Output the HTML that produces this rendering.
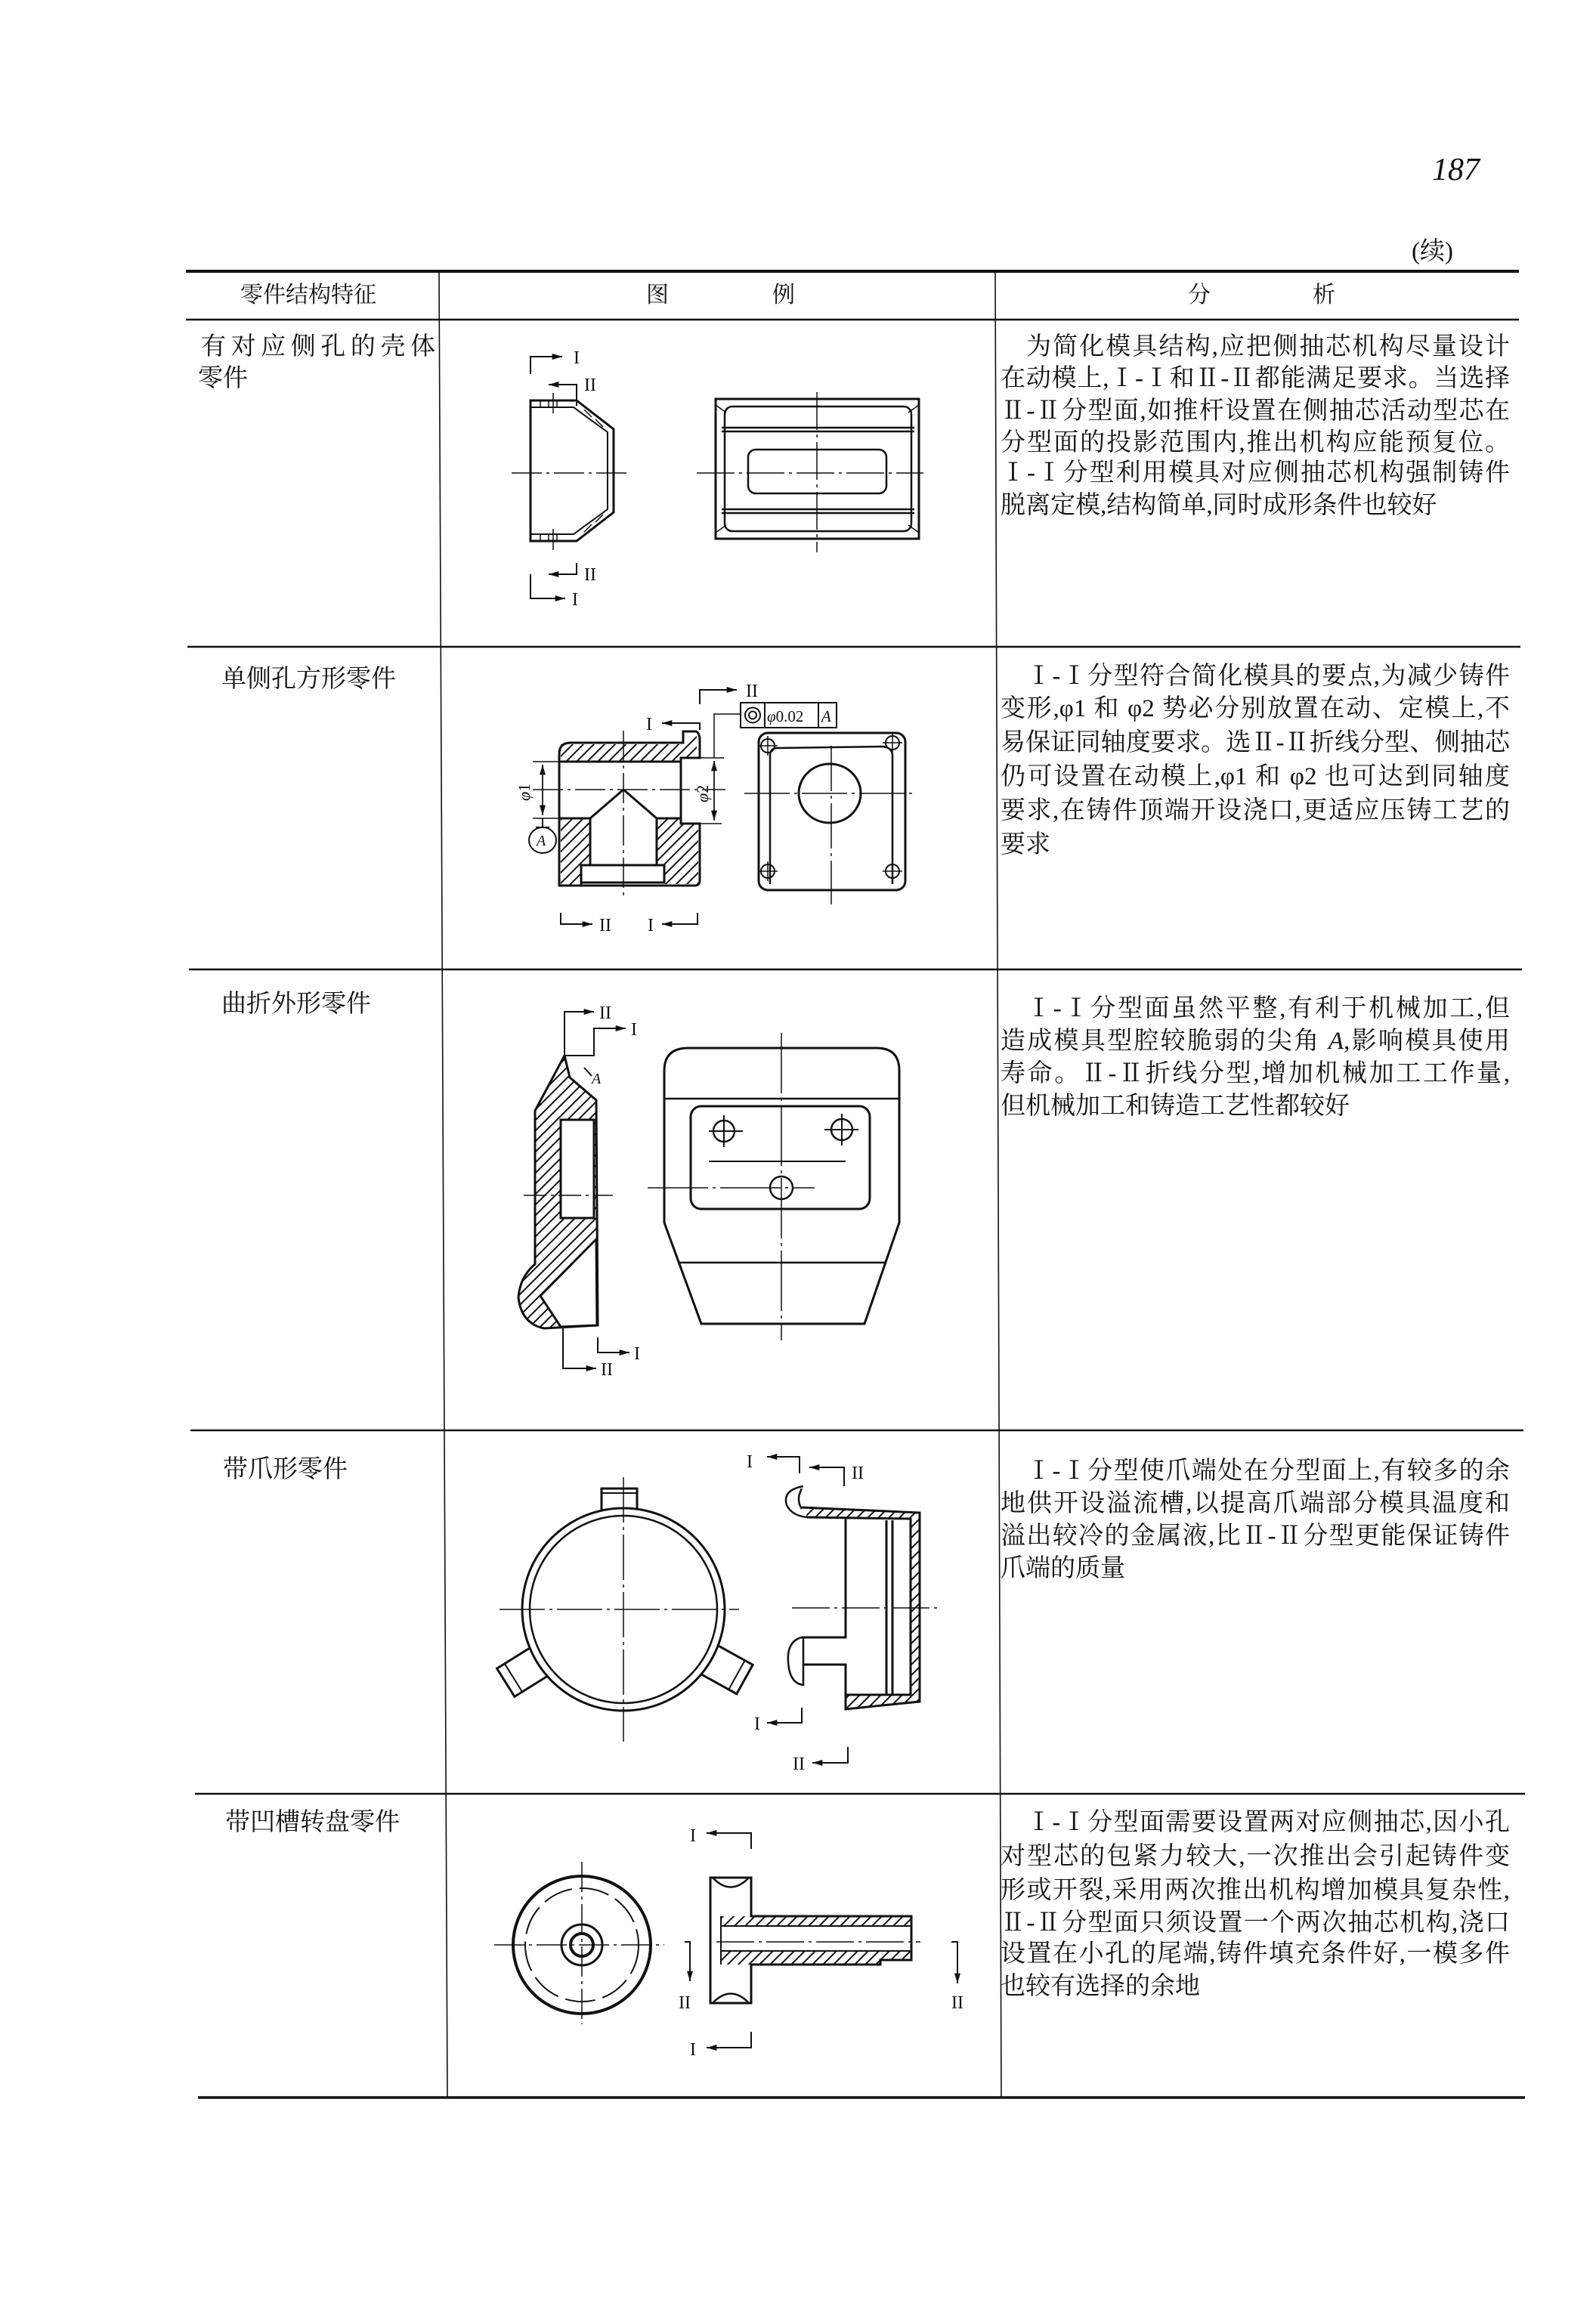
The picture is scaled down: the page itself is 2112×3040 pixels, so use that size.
<!DOCTYPE html>
<html><head><meta charset="utf-8">
<style>
html,body{margin:0;padding:0;background:#fff;}
#pg{position:relative;width:2112px;height:3040px;overflow:hidden;background:#fff;color:#111;
font-family:"Liberation Serif","Noto Serif CJK SC",serif;}
.t{position:absolute;font-size:33px;line-height:42px;height:42px;white-space:nowrap;}
.j{text-align:justify;text-align-last:justify;width:674px;left:1324px;}
.ji{text-align:justify;text-align-last:justify;width:640px;left:1358px;}
.l{left:1324px;}
svg{position:absolute;left:0;top:0;}
</style></head><body><div id="pg">
<svg width="2112" height="3040" viewBox="0 0 2112 3040">
<defs>
<pattern id="h" patternUnits="userSpaceOnUse" width="14" height="14"><path d="M-2,16 L16,-2 M-2,2 L2,-2 M12,16 L16,12" stroke="#111" stroke-width="2"/></pattern>
<marker id="a" viewBox="0 0 10 6" refX="10" refY="3" markerWidth="18" markerHeight="8" orient="auto" markerUnits="userSpaceOnUse"><path d="M0,0 L10,3 L0,6 z" fill="#111"/></marker>
</defs>
<g stroke="#111" fill="none">
<line x1="246" y1="359" x2="2010" y2="359" stroke-width="4"/>
<line x1="246" y1="423" x2="2010" y2="423" stroke-width="2.5"/>
<line x1="248" y1="856" x2="2012" y2="856" stroke-width="2.5"/>
<line x1="250" y1="1283" x2="2014" y2="1283" stroke-width="2.5"/>
<line x1="252" y1="1893" x2="2016" y2="1893" stroke-width="2.5"/>
<line x1="258" y1="2374" x2="2018" y2="2374" stroke-width="2.5"/>
<line x1="262" y1="2776" x2="2018" y2="2776" stroke-width="3.5"/>
<line x1="581" y1="359" x2="592" y2="2776" stroke-width="1.6"/>
<line x1="1317" y1="359" x2="1325" y2="2776" stroke-width="1.6"/>
</g>
<g stroke="#111" fill="none" stroke-width="3" transform="translate(-7,0)">
<!-- ROW1 -->
<path d="M709,530 L770,530 L819,568 L819,678 L770,716 L709,716 Z"/>
<path d="M709,539 L766,539 L811,572 L811,674 L766,707 L709,707" stroke-width="2"/>
<path d="M722,530 V539 M733,530 V539 M744,530 V539 M722,707 V716 M733,707 V716 M744,707 V716 M780,542 L790,552 M795,555 L805,565 M780,704 L790,694 M795,691 L805,681" stroke-width="1.5"/>
<path d="M739,520 V547 M739,700 V728" stroke-width="1.5"/>
<path d="M684,626 H837" stroke-width="1.5" stroke-dasharray="40,6,4,6"/>
<polyline points="709,495 709,472 751,472" stroke-width="2" marker-end="url(#a)"/>
<polyline points="770,537 770,509 733,509" stroke-width="2" marker-end="url(#a)"/>
<polyline points="770,745 770,760 733,760" stroke-width="2" marker-end="url(#a)"/>
<polyline points="709,760 709,792 755,792" stroke-width="2" marker-end="url(#a)"/>
<rect x="954" y="528" width="269" height="185"/>
<rect x="966" y="538" width="247" height="165" rx="10" stroke-width="2.5"/>
<path d="M962,566 H1217 M962,571 H1217 M962,674 H1217 M962,679 H1217" stroke-width="2.5"/>
<path d="M954,536 L968,546 M1223,536 L1209,546 M954,705 L968,695 M1223,705 L1209,695" stroke-width="1.5"/>
<rect x="997" y="595" width="183" height="58" rx="10" stroke-width="2.5"/>
<path d="M1088,519 V731 M929,626 H1229" stroke-width="1.5" stroke-dasharray="50,6,4,6"/>

<!-- ROW2 -->
<polygon points="749,985 911,985 929,970 929,995 908,1007 749,1007" fill="url(#h)" stroke="none"/>
<rect x="749" y="1083" width="39" height="88" fill="url(#h)" stroke="none"/>
<polygon points="876,1083 908,1083 908,1090 931,1090 931,1170 886,1170 886,1145 876,1145" fill="url(#h)" stroke="none"/>
<path d="M747,1172 L747,998 Q747,983 762,983 L911,983 L911,968 L928,968 Q933,970 933,980 L933,1003 L908,1003 L908,1090 L933,1090 L933,1165 Q933,1172 926,1172 Z"/>
<path d="M747,1008 H908 M747,1083 H788 L832,1045 L876,1083 H908 M788,1083 V1145 M876,1083 V1145"/>
<rect x="776" y="1145" width="110" height="23" fill="#fff"/>
<path d="M832,967 V1190 M712,1045 H967" stroke-width="1.5" stroke-dasharray="40,6,4,6"/>
<path d="M712,1008 H747 M712,1083 H747 M908,1003 H965 M933,1090 H962" stroke-width="1.5"/>
<line x1="725" y1="1012" x2="725" y2="1079" stroke-width="1.5" marker-end="url(#a)"/>
<line x1="725" y1="1079" x2="725" y2="1012" stroke-width="1.5" marker-end="url(#a)"/>
<line x1="952" y1="1007" x2="952" y2="1086" stroke-width="1.5" marker-end="url(#a)"/>
<line x1="952" y1="1086" x2="952" y2="1007" stroke-width="1.5" marker-end="url(#a)"/>
<path d="M952,1003 V945 H987" stroke-width="1.5"/>
<path d="M725,1083 V1095 M716,1095 H734" stroke-width="2"/>
<ellipse cx="725" cy="1112" rx="18" ry="17" stroke-width="2"/>
<rect x="987" y="930" width="127" height="33" stroke-width="2"/>
<path d="M1019,930 V963 M1090,930 V963" stroke-width="2"/>
<circle cx="1003" cy="946.5" r="10" stroke-width="2"/><circle cx="1003" cy="946.5" r="5" stroke-width="2"/>
<polyline points="933,932 933,913 982,913" stroke-width="2" marker-end="url(#a)"/>
<polyline points="933,966 933,957 883,957" stroke-width="2" marker-end="url(#a)"/>
<polyline points="749,1208 749,1223 791,1223" stroke-width="2" marker-end="url(#a)"/>
<polyline points="930,1208 930,1223 883,1223" stroke-width="2" marker-end="url(#a)"/>
<rect x="1011" y="970" width="194" height="208" rx="12"/>
<path d="M1026,1000 Q1026,990 1036,990 L1176,988 Q1188,990 1188,1000 L1188,1170 M1026,1000 L1026,1170" stroke-width="2.5"/>
<ellipse cx="1105" cy="1050" rx="41" ry="39"/>
<circle cx="1023" cy="987" r="9" stroke-width="2"/><circle cx="1188" cy="983" r="9" stroke-width="2"/>
<circle cx="1023" cy="1153" r="9" stroke-width="2"/><circle cx="1188" cy="1153" r="9" stroke-width="2"/>
<path d="M1010,987 H1036 M1023,974 V1000 M1175,983 H1201 M1188,970 V996 M1010,1153 H1036 M1023,1140 V1166 M1175,1153 H1201 M1188,1140 V1166" stroke-width="1.5"/>
<path d="M1107,987 V1197 M992,1050 H1215" stroke-width="1.5" stroke-dasharray="60,6,4,6"/>

<!-- ROW3 -->
<path d="M754,1397 L715,1470 L715,1673 Q695,1690 693,1717 Q697,1752 727,1758 L798,1754 L796,1456 L761,1426 Z" fill="url(#h)"/>
<rect x="749" y="1482" width="44" height="130" fill="#fff"/>
<polygon points="796,1640 722,1715 749,1756 797,1754" fill="#fff"/>
<path d="M754,1397 L761,1426 M780,1413 L790,1424" stroke-width="2"/>
<path d="M700,1582 H818" stroke-width="1.5" stroke-dasharray="30,6,4,6"/>
<polyline points="754,1397 793,1397 793,1361 835,1361" stroke-width="2" marker-end="url(#a)"/>
<polyline points="754,1397 754,1339 793,1339" stroke-width="2" marker-end="url(#a)"/>
<polyline points="798,1770 798,1790 840,1790" stroke-width="2" marker-end="url(#a)"/>
<polyline points="752,1756 752,1811 796,1811" stroke-width="2" marker-end="url(#a)"/>
<path d="M918,1387 H1167 Q1197,1387 1197,1417 L1197,1618 L1151,1752 L935,1752 L886,1618 L886,1417 Q886,1387 918,1387 Z"/>
<path d="M886,1454 H1197 M906,1671 H1178" stroke-width="2.5"/>
<rect x="921" y="1464" width="237" height="136" rx="14"/>
<circle cx="965" cy="1497" r="14" stroke-width="2.5"/><circle cx="1121" cy="1495" r="14" stroke-width="2.5"/><circle cx="1041" cy="1572" r="15" stroke-width="2.5"/>
<path d="M945,1497 H990 M965,1476 V1518 M1098,1495 H1143 M1121,1474 V1516 M945,1537 H1126" stroke-width="2"/>
<path d="M1041,1367 V1774 M864,1572 H1085" stroke-width="1.5" stroke-dasharray="80,6,4,6"/>

<!-- ROW4 -->
<rect x="803" y="1970" width="47" height="44" fill="#fff"/>
<path d="M803,1976 H850" stroke-width="2"/>
<g transform="translate(700,2212) rotate(58)"><rect x="-22" y="-28" width="44" height="56" fill="#fff"/><path d="M-22,16 H22" stroke-width="2"/></g>
<g transform="translate(968,2209) rotate(-61)"><rect x="-22" y="-28" width="44" height="56" fill="#fff"/><path d="M-22,16 H22" stroke-width="2"/></g>
<circle cx="832" cy="2130" r="134" fill="#fff"/>
<circle cx="832" cy="2130" r="124" stroke-width="2.5"/>
<path d="M832,1955 V2305 M668,2130 H985" stroke-width="1.5" stroke-dasharray="60,6,4,6"/>
<polygon points="1070,1995 1222,2002 1212,2010 1075,2008" fill="url(#h)" stroke="none"/>
<polygon points="1212,2010 1224,2002 1224,2252 1212,2243" fill="url(#h)" stroke="none"/>
<polygon points="1126,2243 1212,2243 1224,2252 1126,2262" fill="url(#h)" stroke="none"/>
<path d="M1068,1995 L1224,2002 L1224,2252 L1126,2262 L1126,2203 L1070,2203 M1075,2008 L1212,2010 L1212,2243 L1126,2243 M1188,2012 V2243 M1180,2012 V2243 M1126,2010 V2167 H1068"/>
<path d="M1070,1967 Q1042,1972 1048,1992 Q1055,2006 1075,2008 M1068,1970 Q1060,1985 1068,1997" stroke-width="2.5"/>
<path d="M1068,2167 Q1048,2172 1050,2200 Q1052,2228 1070,2230 L1070,2167" stroke-width="2.5"/>
<path d="M1055,2128 H1251" stroke-width="1.5" stroke-dasharray="50,6,4,6"/>
<polyline points="1065,1950 1065,1928 1022,1928" stroke-width="2" marker-end="url(#a)"/>
<polyline points="1124,1967 1124,1942 1078,1942" stroke-width="2" marker-end="url(#a)"/>
<polyline points="1068,2260 1068,2280 1022,2280" stroke-width="2" marker-end="url(#a)"/>
<polyline points="1129,2312 1129,2333 1082,2333" stroke-width="2" marker-end="url(#a)"/>

<!-- ROW5 -->
<circle cx="777" cy="2574" r="91" stroke-width="4"/>
<circle cx="777" cy="2574" r="75" stroke-width="2" stroke-dasharray="40,10"/>
<circle cx="777" cy="2574" r="27" stroke-width="3"/>
<circle cx="777" cy="2574" r="15" stroke-width="4"/>
<path d="M777,2464 V2679 M661,2574 H886" stroke-width="1.5" stroke-dasharray="40,6,4,6"/>
<polygon points="961,2536 1213,2536 1213,2549 961,2549" fill="url(#h)" stroke="none"/>
<polygon points="961,2582 1213,2582 1213,2594 1172,2594 1172,2600 961,2600" fill="url(#h)" stroke="none"/>
<path d="M947,2485 H1001 L1001,2536 H1213 V2594 H1172 V2600 H1001 V2651 H947 Z" fill="none"/>
<path d="M961,2549 H1213 M961,2582 H1213 M961,2536 V2600" stroke-width="2"/>
<path d="M950,2485 Q974,2510 998,2485 M950,2651 Q974,2626 998,2651" stroke-width="2.5"/>
<path d="M955,2570 H1225" stroke-width="1.5" stroke-dasharray="50,6,4,6"/>
<polyline points="1001,2447 1001,2426 942,2426" stroke-width="2" marker-end="url(#a)"/>
<polyline points="1001,2689 1001,2710 942,2710" stroke-width="2" marker-end="url(#a)"/>
<polyline points="913,2570 920,2570 920,2622" stroke-width="2" marker-end="url(#a)"/>
<polyline points="1266,2570 1274,2570 1274,2625" stroke-width="2" marker-end="url(#a)"/>
</g>
<g font-family="Liberation Serif, serif" font-size="24" fill="#111" transform="translate(-7,0)">
<text x="766" y="481">I</text><text x="780" y="517">II</text><text x="780" y="768">II</text><text x="764" y="801">I</text>
<text x="994" y="922">II</text><text x="862" y="966">I</text><text x="800" y="1232">II</text><text x="864" y="1232">I</text>
<text x="842" y="1370">I</text><text x="800" y="1348">II</text><text x="846" y="1799">I</text><text x="802" y="1820">II</text>
<text x="995" y="1942">I</text><text x="1134" y="1957">II</text><text x="1005" y="2289">I</text><text x="1056" y="2342">II</text>
<text x="920" y="2437">I</text><text x="920" y="2720">I</text><text x="905" y="2658">II</text><text x="1266" y="2658">II</text>
<text x="790" y="1434" font-style="italic" font-size="20">A</text>
<text x="717" y="1119" font-style="italic" font-size="20">A</text>
<text x="1022" y="955" font-size="21"><tspan font-style="italic">φ</tspan>0.02</text>
<text x="1094" y="955" font-size="21" font-style="italic">A</text>
<text transform="translate(708,1060) rotate(-90)" font-size="22"><tspan font-style="italic">φ</tspan>1</text>
<text transform="translate(944,1062) rotate(-90)" font-size="22"><tspan font-style="italic">φ</tspan>2</text>
</g>
</svg>

<div class="t" style="left:1895px;top:200px;font-size:42px;font-style:italic;line-height:50px;height:50px;">187</div>
<div class="t" style="left:1868px;top:312px;font-size:33px;">(续)</div>

<div class="t" style="left:318px;top:370px;font-size:30px;">零件结构特征</div>
<div class="t" style="left:855px;top:370px;font-size:30px;">图</div>
<div class="t" style="left:1022px;top:370px;font-size:30px;">例</div>
<div class="t" style="left:1572px;top:370px;font-size:30px;">分</div>
<div class="t" style="left:1737px;top:370px;font-size:30px;">析</div>

<div class="t" style="left:266px;top:438px;width:310px;text-align:justify;text-align-last:justify;">有对应侧孔的壳体</div>
<div class="t" style="left:262px;top:480px;">零件</div>
<div class="t" style="left:293px;top:878px;">单侧孔方形零件</div>
<div class="t" style="left:293px;top:1308px;">曲折外形零件</div>
<div class="t" style="left:295px;top:1924px;">带爪形零件</div>
<div class="t" style="left:298px;top:2391px;">带凹槽转盘零件</div>

<div class="t ji" style="top:438px;">为简化模具结构,应把侧抽芯机构尽量设计</div>
<div class="t j" style="top:480px;">在动模上,Ⅰ-Ⅰ和Ⅱ-Ⅱ都能满足要求。当选择</div>
<div class="t j" style="top:523px;">Ⅱ-Ⅱ分型面,如推杆设置在侧抽芯活动型芯在</div>
<div class="t j" style="top:565px;">分型面的投影范围内,推出机构应能预复位。</div>
<div class="t j" style="top:605px;">Ⅰ-Ⅰ分型利用模具对应侧抽芯机构强制铸件</div>
<div class="t l" style="top:648px;">脱离定模,结构简单,同时成形条件也较好</div>

<div class="t ji" style="top:874px;">Ⅰ-Ⅰ分型符合简化模具的要点,为减少铸件</div>
<div class="t j" style="top:917px;">变形,φ1 和 φ2 势必分别放置在动、定模上,不</div>
<div class="t j" style="top:962px;">易保证同轴度要求。选Ⅱ-Ⅱ折线分型、侧抽芯</div>
<div class="t j" style="top:1007px;">仍可设置在动模上,φ1 和 φ2 也可达到同轴度</div>
<div class="t j" style="top:1052px;">要求,在铸件顶端开设浇口,更适应压铸工艺的</div>
<div class="t l" style="top:1097px;">要求</div>

<div class="t ji" style="top:1314px;">Ⅰ-Ⅰ分型面虽然平整,有利于机械加工,但</div>
<div class="t j" style="top:1357px;">造成模具型腔较脆弱的尖角 <i>A</i>,影响模具使用</div>
<div class="t j" style="top:1400px;">寿命。Ⅱ-Ⅱ折线分型,增加机械加工工作量,</div>
<div class="t l" style="top:1443px;">但机械加工和铸造工艺性都较好</div>

<div class="t ji" style="top:1926px;">Ⅰ-Ⅰ分型使爪端处在分型面上,有较多的余</div>
<div class="t j" style="top:1969px;">地供开设溢流槽,以提高爪端部分模具温度和</div>
<div class="t j" style="top:2012px;">溢出较冷的金属液,比Ⅱ-Ⅱ分型更能保证铸件</div>
<div class="t l" style="top:2055px;">爪端的质量</div>

<div class="t ji" style="top:2391px;">Ⅰ-Ⅰ分型面需要设置两对应侧抽芯,因小孔</div>
<div class="t j" style="top:2436px;">对型芯的包紧力较大,一次推出会引起铸件变</div>
<div class="t j" style="top:2481px;">形或开裂,采用两次推出机构增加模具复杂性,</div>
<div class="t j" style="top:2524px;">Ⅱ-Ⅱ分型面只须设置一个两次抽芯机构,浇口</div>
<div class="t j" style="top:2565px;">设置在小孔的尾端,铸件填充条件好,一模多件</div>
<div class="t l" style="top:2608px;">也较有选择的余地</div>
</div></body></html>
